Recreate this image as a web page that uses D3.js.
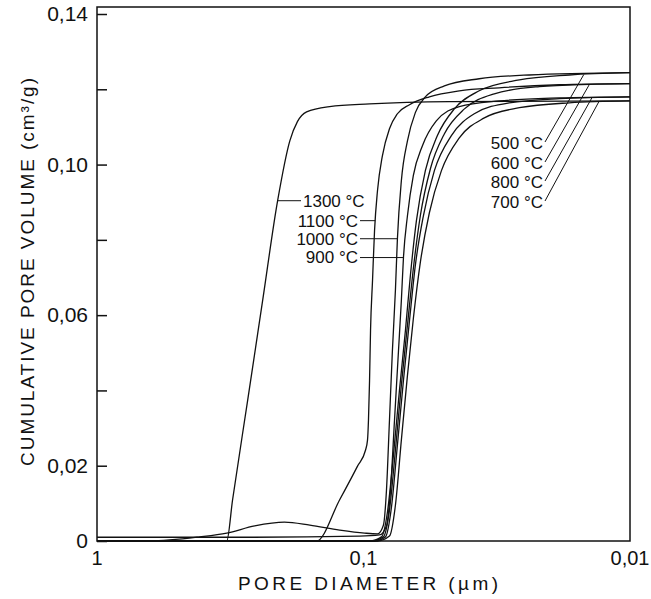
<!DOCTYPE html>
<html>
<head>
<meta charset="utf-8">
<script src="https://cdn.jsdelivr.net/npm/d3@7"></script>
<style>
  body { margin: 0; background: #fff; }
  svg { display: block; font-family: "Liberation Sans", Arial, sans-serif; }
  .curve { fill: none; stroke: #111; stroke-width: 1.3; }
  .lead { fill: none; stroke: #111; stroke-width: 1; }
  .frame { fill: none; stroke: #111; stroke-width: 1.5; }
</style>
</head>
<body>
<svg width="651" height="599"></svg>
<script>
// pore diameter (µm) / cumulative pore volume (cm3/g)
var d1300 = [1, 0.326, 0.310, 0.272, 0.239, 0.210, 0.189, 0.177, 0.1635, 0.134, 0.0949, 0.0476, 0.01];
var v1300 = [0, 0, 0.0109, 0.0374, 0.0639, 0.0904, 0.1063, 0.1114, 0.1140, 0.1154, 0.1161, 0.1167, 0.1169];

var d1100 = [1, 0.150, 0.123, 0.1053, 0.0983, 0.0966, 0.0958, 0.0949, 0.0941, 0.0925, 0.0909, 0.0886, 0.0849, 0.0799, 0.0746, 0.0672, 0.0566, 0.0437, 0.0310, 0.0184, 0.01];
var v1100 = [0, 0, 0.0109, 0.0199, 0.0241, 0.0268, 0.0321, 0.0427, 0.0560, 0.0692, 0.0825, 0.0931, 0.1024, 0.1095, 0.1135, 0.1159, 0.1180, 0.1196, 0.1204, 0.1212, 0.1215];

var d1000 = [1, 0.633, 0.411, 0.326, 0.256, 0.198, 0.159, 0.123, 0.0991, 0.0886, 0.0842, 0.0820, 0.0799, 0.0779, 0.0759, 0.0746, 0.0721, 0.0684, 0.0639, 0.0586, 0.0497, 0.0368, 0.0239, 0.01];
var v1000 = [0, 0, 0.0011, 0.0021, 0.0040, 0.0050, 0.0042, 0.0029, 0.0021, 0.0019, 0.0042, 0.0135, 0.0321, 0.0506, 0.0666, 0.0803, 0.0957, 0.1063, 0.1138, 0.1180, 0.1209, 0.1228, 0.1238, 0.1244];

var d900 = [1, 0.267, 0.1035, 0.0871, 0.0820, 0.0792, 0.0765, 0.0739, 0.0721, 0.0708, 0.0684, 0.0650, 0.0601, 0.0533, 0.0437, 0.0310, 0.0184, 0.01];
var v900 = [0.001, 0.001, 0.0013, 0.0016, 0.0040, 0.0135, 0.0321, 0.0506, 0.0639, 0.0753, 0.0864, 0.0971, 0.1050, 0.1116, 0.1154, 0.1169, 0.1177, 0.1180];

var d500 = [1, 0.0949, 0.0856, 0.0813, 0.0772, 0.0733, 0.0696, 0.0667, 0.0633, 0.0586, 0.0528, 0.0456, 0.0368, 0.0260, 0.0169, 0.01];
var v500 = [0, 0, 0.0011, 0.0077, 0.0228, 0.0400, 0.0560, 0.0705, 0.0851, 0.0984, 0.1077, 0.1148, 0.1196, 0.1225, 0.1238, 0.1244];

var d600 = [1, 0.0933, 0.0842, 0.0799, 0.0759, 0.0721, 0.0684, 0.0650, 0.0612, 0.0561, 0.0497, 0.0418, 0.0323, 0.0219, 0.0142, 0.01];
var v600 = [0, 0, 0.0011, 0.0082, 0.0241, 0.0414, 0.0573, 0.0724, 0.0864, 0.0989, 0.1082, 0.1148, 0.1188, 0.1207, 0.1213, 0.1215];

var d800 = [1, 0.0909, 0.0827, 0.0786, 0.0746, 0.0708, 0.0672, 0.0639, 0.0596, 0.0542, 0.0468, 0.0384, 0.0284, 0.0184, 0.01];
var v800 = [0, 0, 0.0011, 0.0088, 0.0255, 0.0427, 0.0586, 0.0732, 0.0864, 0.0984, 0.1077, 0.1135, 0.1164, 0.1175, 0.1180];

var d700 = [1, 0.0886, 0.0799, 0.0759, 0.0721, 0.0684, 0.0650, 0.0612, 0.0566, 0.0510, 0.0437, 0.0352, 0.0260, 0.0169, 0.01];
var v700 = [0, 0, 0.0013, 0.0095, 0.0268, 0.0440, 0.0591, 0.0740, 0.0872, 0.0984, 0.1071, 0.1124, 0.1151, 0.1164, 0.1169];

// labels at the steep part (left) : volume level where the leader hits
var leftNames = ["1300 °C", "1100 °C", "1000 °C", "900 °C"];
var leftLevels = [0.0904, 0.0851, 0.0803, 0.0753];
// labels at the plateau (right) : diameter where the leader hits
var rightNames = ["500 °C", "600 °C", "800 °C", "700 °C"];
var rightDiams = [0.0149, 0.0142, 0.0139, 0.0131];

var yTickVals = [0, 0.02, 0.04, 0.06, 0.08, 0.10, 0.12, 0.14];
var yLabelVals = [0, 0.02, 0.06, 0.10, 0.14];
var yLabelText = ["0", "0,02", "0,06", "0,10", "0,14"];
var xLabelVals = [1, 0.1, 0.01];
var xLabelText = ["1", "0,1", "0,01"];

var series = {
  "1300 °C": [d1300, v1300],
  "1100 °C": [d1100, v1100],
  "1000 °C": [d1000, v1000],
  "900 °C": [d900, v900],
  "500 °C": [d500, v500],
  "600 °C": [d600, v600],
  "800 °C": [d800, v800],
  "700 °C": [d700, v700]
};

var svg = d3.select("svg");
var pl = 97, pr = 630, pt = 7, pb = 541;

var x = d3.scaleLog().domain([1, 0.01]).range([pl, pr]);
var y = d3.scaleLinear().domain([0, 0.14]).range([pb, 14]);

function pts(name) {
  var s = series[name];
  return s[0].map(function(d, i) { return [x(d), y(s[1][i])]; });
}

var line = d3.line().curve(d3.curveMonotoneX);

// curves
Object.keys(series).forEach(function(k) {
  svg.append("path").attr("class", "curve").attr("d", line(pts(k)));
});

// frame
svg.append("rect").attr("class", "frame")
  .attr("x", pl).attr("y", pt)
  .attr("width", pr - pl).attr("height", pb - pt);

// y ticks (inward)
var yAxis = d3.axisRight(y).tickValues(yTickVals).tickSize(10).tickFormat("");
var gy = svg.append("g").attr("transform", "translate(" + pl + ",0)").call(yAxis);
gy.select(".domain").remove();
gy.selectAll("line").attr("stroke", "#111").attr("stroke-width", 1.5);

svg.selectAll(".ylab").data(yLabelVals).enter().append("text")
  .attr("x", 88).attr("y", function(d) { return y(d); })
  .attr("dy", "0.35em").attr("text-anchor", "end")
  .attr("font-size", 21).attr("fill", "#111")
  .text(function(d, i) { return yLabelText[i]; });

svg.selectAll(".xlab").data(xLabelVals).enter().append("text")
  .attr("x", function(d) { return x(d); }).attr("y", 565)
  .attr("text-anchor", "middle")
  .attr("font-size", 20).attr("fill", "#111")
  .text(function(d, i) { return xLabelText[i]; });

// axis titles
svg.append("text").attr("x", 368).attr("y", 590)
  .attr("text-anchor", "middle").attr("font-size", 19).attr("fill", "#111")
  .attr("textLength", 260).attr("lengthAdjust", "spacing")
  .text("PORE DIAMETER (µm)");

svg.append("text").attr("transform", "translate(34,272) rotate(-90)")
  .attr("text-anchor", "middle").attr("font-size", 19).attr("fill", "#111")
  .attr("textLength", 388).attr("lengthAdjust", "spacing")
  .text("CUMULATIVE PORE VOLUME (cm³/g)");

// find pixel x on a curve where it reaches a volume level
function xAtLevel(name, lev) {
  var p = pts(name), yl = y(lev);
  for (var i = 0; i < p.length - 1; i++) {
    if ((p[i][1] - yl) * (p[i + 1][1] - yl) <= 0 && p[i][1] !== p[i + 1][1]) {
      var t = (yl - p[i][1]) / (p[i + 1][1] - p[i][1]);
      return p[i][0] + t * (p[i + 1][0] - p[i][0]);
    }
  }
  return p[0][0];
}
function yAtDiam(name, dd) {
  var p = pts(name), xx = x(dd);
  for (var i = 0; i < p.length - 1; i++) {
    if (xx >= p[i][0] && xx <= p[i + 1][0]) {
      var t = (xx - p[i][0]) / (p[i + 1][0] - p[i][0]);
      return p[i][1] + t * (p[i + 1][1] - p[i][1]);
    }
  }
  return p[p.length - 1][1];
}

// left labels
leftNames.forEach(function(n, i) {
  var yy = y(leftLevels[i]);
  var cx = xAtLevel(n, leftLevels[i]);
  var first = i === 0;
  svg.append("line").attr("class", "lead")
    .attr("x1", first ? 301 : 360).attr("y1", yy)
    .attr("x2", cx).attr("y2", yy);
  svg.append("text")
    .attr("x", first ? 303 : 358).attr("y", yy).attr("dy", "0.35em")
    .attr("text-anchor", first ? "start" : "end")
    .attr("font-size", 17).attr("fill", "#111")
    .text(n);
});

// right labels
var rightTextY = [143, 163, 182, 202];
rightNames.forEach(function(n, i) {
  var cx = x(rightDiams[i]), cy = yAtDiam(n, rightDiams[i]);
  svg.append("line").attr("class", "lead")
    .attr("x1", 545).attr("y1", rightTextY[i] - 1)
    .attr("x2", cx).attr("y2", cy);
  svg.append("text")
    .attr("x", 543).attr("y", rightTextY[i]).attr("dy", "0.35em")
    .attr("text-anchor", "end")
    .attr("font-size", 17).attr("fill", "#111")
    .text(n);
});
</script>
</body>
</html>
